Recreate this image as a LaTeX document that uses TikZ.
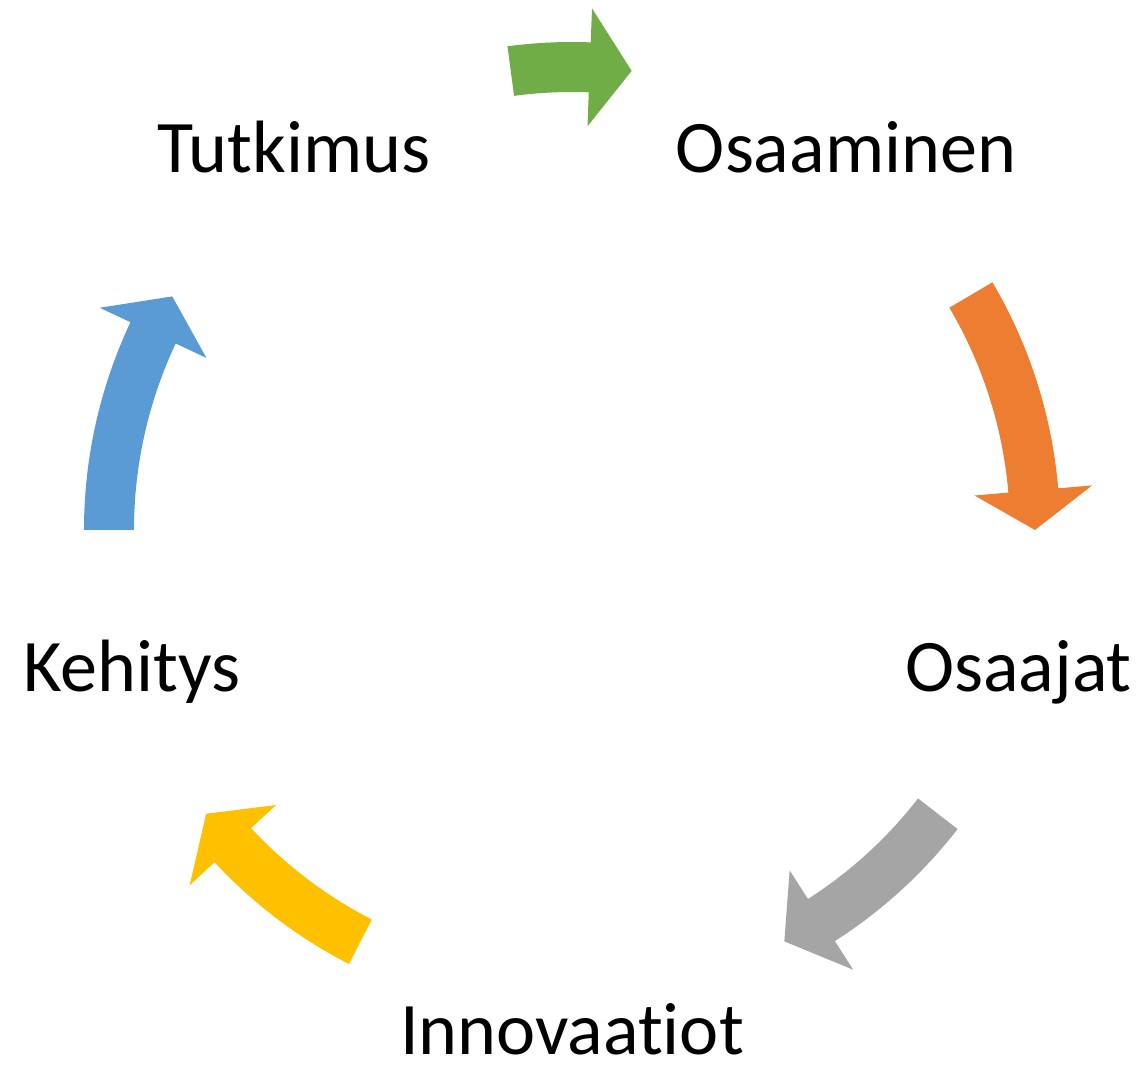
\documentclass[tikz,border=0pt]{standalone}
\usepackage{fontspec}
\setmainfont{Carlito}[Ligatures={NoCommon,NoContextual}]
\usetikzlibrary{positioning}
\definecolor{arrgreen}{HTML}{70AD47}
\definecolor{arrorange}{HTML}{ED7D31}
\definecolor{arrgray}{HTML}{A5A5A5}
\definecolor{arryellow}{HTML}{FFC000}
\definecolor{arrblue}{HTML}{5B9BD5}
% curved block arrow: colour, start angle, head base angle, tip angle
\newcommand{\cyclearrow}[4]{%
  \fill[#1] (#2:488) arc[start angle=#2, end angle=#3, radius=488]
    -- (#3:522) -- (#4:463) -- (#3:404) -- (#3:438)
    arc[start angle=#3, end angle=#2, radius=438] -- cycle;}

\begin{document}
\begin{tikzpicture}
		[x=0.02cm, y=0.02cm,
		 lbl/.style = {anchor=base, inner sep=0pt, font=\fontsize{42.2pt}{46pt}\selectfont}]
		\useasboundingbox (-572,-540) rectangle (568,530);
		\node[lbl] (tutk) at (-278,357) {Tutkimus};
		\node[lbl] (osaam) at (274,357) {Osaaminen};
		\node[lbl] (osaaj) at (446.5,-162) {Osaajat};
		\node[lbl] (innov) at (0,-525) {Innovaatiot};
		\node[lbl] (kehit) at (-440,-162) {Kehitys};

		\cyclearrow{arrgreen}{97.6}{87.8}{82.6}
		\cyclearrow{arrorange}{30.5}{4.9}{0}
		\cyclearrow{arrgray}{-37.8}{-57.4}{-62.7}
		\cyclearrow{arryellow}{-117.2}{-137.1}{-142.2}
		\cyclearrow{arrblue}{180}{154.8}{149.7}
	\end{tikzpicture}
\end{document}
